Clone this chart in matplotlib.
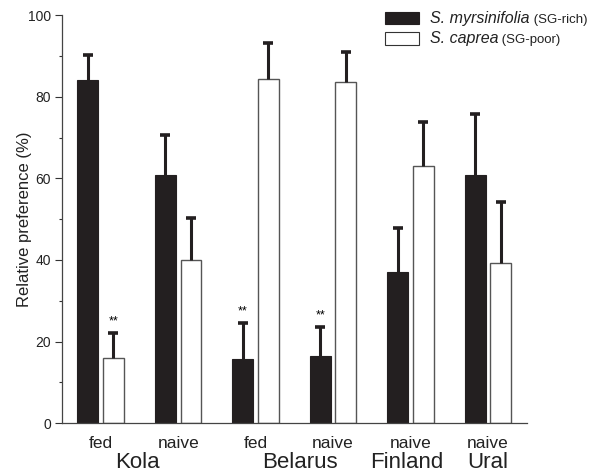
import matplotlib
matplotlib.use("Agg")
import matplotlib.pyplot as plt
import numpy as np
from matplotlib.patches import Rectangle
from matplotlib.ticker import MultipleLocator

plt.rcParams['font.family'] = ['Liberation Sans', 'DejaVu Sans']

conditions = ['fed', 'naive', 'fed', 'naive', 'naive', 'naive']
regions = ['Kola', 'Belarus', 'Finland', 'Ural']
region_pos = [0.47, 2.57, 3.95, 5.0]
myrs = [84.1, 60.8, 15.8, 16.4, 37.0, 60.9]
myrs_err = [6.0, 9.8, 8.7, 7.1, 10.8, 14.8]
caprea = [16.0, 40.0, 84.3, 83.7, 63.1, 39.2]
caprea_err = [6.0, 10.3, 8.8, 7.2, 10.7, 15.1]
myrs_sig = [False, False, True, True, False, False]
caprea_sig = [True, False, False, False, False, False]

fig = plt.figure(figsize=(6, 4.75), dpi=100)
ax = fig.add_axes([0.1033, 0.1088, 0.7747, 0.8596])

x = np.arange(len(conditions))
w = 0.27
off = 0.165
black = '#231f20'

ax.bar(x - off, myrs, w, color=black, edgecolor=black, linewidth=0.8, zorder=2)
ax.bar(x + off, caprea, w, color='white', edgecolor='#555555', linewidth=1.0, zorder=2)


def upper_err(xs, vals, errs):
    vals = np.asarray(vals)
    tops = vals + np.asarray(errs)
    ax.vlines(xs, vals, tops, colors=black, linewidth=2.2, zorder=3)
    ax.plot(xs, tops, linestyle='none', marker='_', markersize=6.5, markeredgewidth=2.6,
            color=black, zorder=3)


upper_err(x - off, myrs, myrs_err)
upper_err(x + off, caprea, caprea_err)

for i in range(len(conditions)):
    if myrs_sig[i]:
        ax.text(x[i] - off, myrs[i] + myrs_err[i] + 3, '**', ha='center', va='center', fontsize=9)
    if caprea_sig[i]:
        ax.text(x[i] + off, caprea[i] + caprea_err[i] + 3, '**', ha='center', va='center', fontsize=9)

ax.set_xlim(-0.5, 5.5)
ax.set_ylim(0, 100)
ax.yaxis.set_major_locator(MultipleLocator(20))
ax.yaxis.set_minor_locator(MultipleLocator(10))
ax.tick_params(axis='y', which='major', length=5, width=0.8, labelsize=10, colors='#333333', pad=3)
ax.tick_params(axis='y', which='minor', length=2.5, width=0.8, colors='#333333')
ax.set_xticks(x)
ax.set_xticklabels(conditions, fontsize=12.5)
ax.tick_params(axis='x', length=0, pad=9, labelcolor='#222222')
for lab in ax.get_yticklabels():
    lab.set_color('#222222')

for s in ['top', 'right']:
    ax.spines[s].set_visible(False)
for s in ['left', 'bottom']:
    ax.spines[s].set_color('#444444')
    ax.spines[s].set_linewidth(0.9)

trans = ax.get_xaxis_transform()
for name, p in zip(regions, region_pos):
    ax.text(p, -0.095, name, transform=trans, ha='center', va='center', fontsize=16, color='#222222')

ax.set_ylabel('Relative preference (%)', fontsize=12, color='#222222')
ax.yaxis.set_label_coords(-0.08, 0.5)
ax.yaxis.label.set_va('center')

# legend
def px(xp, yp):
    return xp / 600.0, 1 - yp / 475.0


x0, y0 = px(385, 24)
fig.patches.append(Rectangle((x0, y0), 34 / 600.0, 12.5 / 475.0, transform=fig.transFigure,
                             facecolor=black, edgecolor=black, linewidth=0.8))
x1, y1 = px(385, 45)
fig.patches.append(Rectangle((x1, y1), 34 / 600.0, 13 / 475.0, transform=fig.transFigure,
                             facecolor='white', edgecolor='#333333', linewidth=0.8))
t1 = fig.text(430 / 600.0, 1 - 18 / 475.0, 'S. myrsinifolia', fontsize=11.5, style='italic',
              va='center', ha='left', color='#222222')
ax.annotate(' (SG-rich)', xy=(1, 0), xycoords=t1, va='bottom', ha='left',
            fontsize=9.5, color='#222222', annotation_clip=False)
t2 = fig.text(430 / 600.0, 1 - 38.5 / 475.0, 'S. caprea', fontsize=11.5, style='italic',
              va='center', ha='left', color='#222222')
ax.annotate(' (SG-poor)', xy=(1, 0), xycoords=t2, va='bottom', ha='left',
            fontsize=9.5, color='#222222', annotation_clip=False)

fig.savefig('out.png', dpi=100)
